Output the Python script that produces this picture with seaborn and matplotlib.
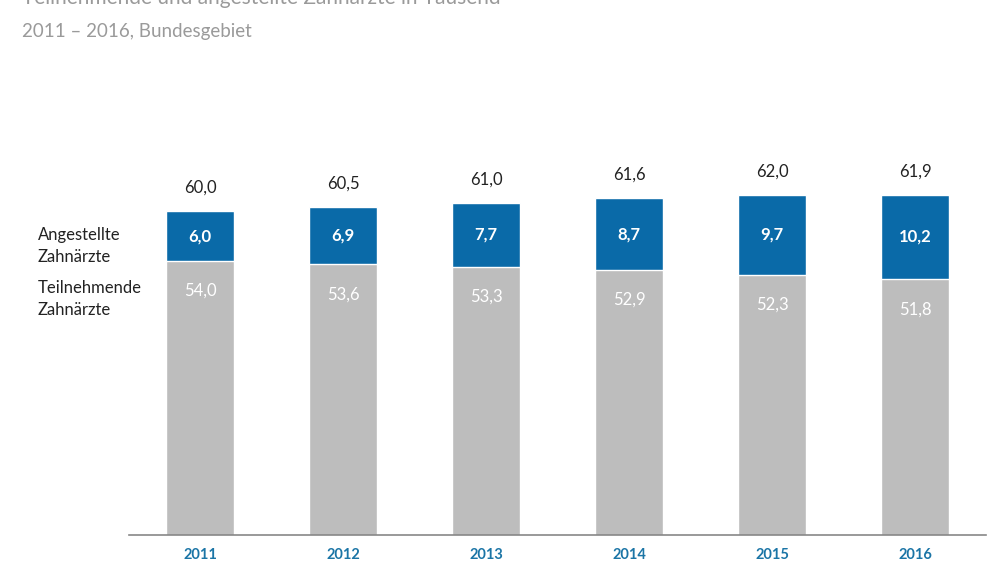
import matplotlib
matplotlib.use("Agg")
import pandas as pd
import numpy as np
import matplotlib.pyplot as plt
import seaborn as sns

# Data (in Tausend)
jahre = ["2011", "2012", "2013", "2014", "2015", "2016"]
teilnehmende = [54.0, 53.6, 53.3, 52.9, 52.3, 51.8]
angestellte = [6.0, 6.9, 7.7, 8.7, 9.7, 10.2]
gesamt = [60.0, 60.5, 61.0, 61.6, 62.0, 61.9]

df = pd.DataFrame({"jahr": jahre, "teil": teilnehmende,
                   "ang": angestellte, "gesamt": gesamt})
df["summe"] = df["teil"] + df["ang"]

blau = "#0a6aa8"
grau = "#bdbdbd"

sns.set_style("white")
plt.rcParams["font.family"] = ["Lato", "DejaVu Sans"]

fig = plt.figure(figsize=(10, 5.63), dpi=100)
ax = fig.add_axes([0.1285, 0.0497, 0.858, 0.7727])

# stacked bars: full height blue, grey part drawn over it
sns.barplot(data=df, x="jahr", y="summe", color=blau, width=0.475,
            saturation=1, ax=ax)
sns.barplot(data=df, x="jahr", y="teil", color=grau, width=0.475,
            saturation=1, ax=ax)

ax.set_ylim(21, 73.4)
ax.set_xlim(-0.5, 5.5)

# value labels
for i, row in df.iterrows():
    ax.text(i, row["summe"] + 2.8, f"{row['gesamt']:.1f}".replace(".", ","),
            ha="center", va="center", fontsize=12, color="#222222")
    ax.text(i, row["teil"] + row["ang"] / 2, f"{row['ang']:.1f}".replace(".", ","),
            ha="center", va="center", fontsize=12, color="white",
            fontweight="bold")
    ax.text(i, row["teil"] - 3.6, f"{row['teil']:.1f}".replace(".", ","),
            ha="center", va="center", fontsize=12, color="white")

# axis styling
for s in ["top", "right", "left"]:
    ax.spines[s].set_visible(False)
ax.spines["bottom"].set_color("#888888")
ax.spines["bottom"].set_linewidth(1.2)
ax.set_yticks([])
ax.set_xlabel("")
ax.set_ylabel("")
ax.set_xticks(np.arange(-0.5, 6, 1), minor=True)
ax.tick_params(axis="x", which="minor", length=6, width=1, color="#888888",
               direction="out")
ax.tick_params(axis="x", which="major", length=0, pad=9, labelsize=10.5,
               labelcolor="#1b75a6")
for lbl in ax.get_xticklabels():
    lbl.set_fontweight("bold")

# legend-like labels on the left
fig.text(0.038, 1 - 246 / 563, "Angestellte\nZahnärzte", ha="left",
         va="center", fontsize=12, color="#222222", linespacing=1.45)
fig.text(0.038, 1 - 299 / 563, "Teilnehmende\nZahnärzte", ha="left",
         va="center", fontsize=12, color="#222222", linespacing=1.45)

# titles (top line cut off in the reference)
fig.text(0.022, 1 + 2 / 563, "Teilnehmende und angestellte Zahnärzte in Tausend",
         ha="left", va="center", fontsize=15, color="#9a9a9a")
fig.text(0.022, 1 - 31 / 563, "2011 – 2016, Bundesgebiet", ha="left",
         va="center", fontsize=13.5, color="#9a9a9a")

fig.savefig("out.png", dpi=100)
